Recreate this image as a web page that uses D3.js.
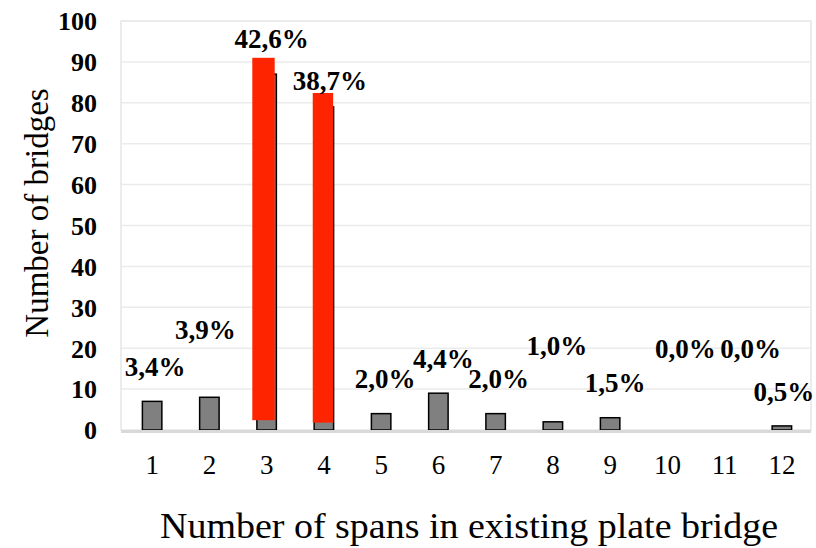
<!DOCTYPE html>
<html>
<head>
<meta charset="utf-8">
<script src="https://cdn.jsdelivr.net/npm/d3@7"></script>
<style>
  html, body { margin: 0; padding: 0; background: #fff; }
  svg { display: block; }
  text { font-family: "Liberation Serif", "Times New Roman", serif; fill: #000; }
</style>
</head>
<body>
<svg id="chart" width="816" height="548"></svg>
<script>
// Number of spans per bridge and how many bridges have that many spans
const spans = ["1", "2", "3", "4", "5", "6", "7", "8", "9", "10", "11", "12"];
const bridges = [7, 8, 87, 79, 4, 9, 4, 2, 3, 0, 0, 1];
const yTicks = [0, 10, 20, 30, 40, 50, 60, 70, 80, 90, 100];

// Highlighted categories (red bands drawn over the bars), extent in bridge counts
const highlightSpans = ["3", "4"];
const highlightTop = [91, 82.4];
const highlightBottom = [2.4, 1.8];

// Layout: label nudges (px) relative to the top centre of each bar
const labelDx = [3, -4, 5, 6, 4, 5, 3, 4, 5, 18, 26, 2];
const labelDy = [-25, -58, -26, -17, -26, -25, -26, -67, -26, -72, -72, -25];
// Layout: horizontal placement of the red bands relative to the band start (px)
const highlightDx = [-4.6, -1.4];
const highlightW = [22.4, 20.4];

const total = d3.sum(bridges);
const pct = v => (v / total * 100).toFixed(1).replace(".", ",") + "%";

const svg = d3.select("#chart");
const plot = { left: 121, right: 811, top: 21, bottom: 430 };

const x = d3.scaleBand().domain(spans).range([123.5, 810.5]).paddingInner(0.66).paddingOuter(0.33);
const y = d3.scaleLinear().domain([0, 100]).range([plot.bottom, plot.top]);

// Plot frame
svg.append("rect")
  .attr("x", plot.left).attr("y", plot.top)
  .attr("width", plot.right - plot.left).attr("height", plot.bottom - plot.top)
  .attr("fill", "none").attr("stroke", "#e6e6e6").attr("stroke-width", 1.5);

// Horizontal gridlines
svg.append("g").selectAll("line").data(yTicks.filter(t => t > 0)).join("line")
  .attr("x1", plot.left).attr("x2", plot.right)
  .attr("y1", d => y(d)).attr("y2", d => y(d))
  .attr("stroke", "#ebebeb").attr("stroke-width", 1.5);

// Y axis tick labels
const yAxis = d3.axisLeft(y).tickValues(yTicks).tickSize(0).tickPadding(0).tickFormat(d3.format("d"));
svg.append("g").attr("transform", "translate(97,0)").call(yAxis)
  .call(g => g.select(".domain").remove())
  .call(g => g.selectAll("text")
    .attr("font-family", "Liberation Serif").attr("font-size", 26)
    .attr("font-weight", "bold").attr("dy", "0.34em"));

// Bars
svg.append("g").selectAll("rect").data(spans).join("rect")
  .attr("x", d => x(d))
  .attr("y", (d, i) => y(bridges[i]))
  .attr("width", x.bandwidth())
  .attr("height", (d, i) => y(0) - y(bridges[i]))
  .attr("fill", "#808080").attr("stroke", "#000").attr("stroke-width", 1.5);

// Red highlight bands
svg.append("g").selectAll("rect").data(highlightSpans).join("rect")
  .attr("x", (d, i) => x(d) + highlightDx[i])
  .attr("y", (d, i) => y(highlightTop[i]))
  .attr("width", (d, i) => highlightW[i])
  .attr("height", (d, i) => y(highlightBottom[i]) - y(highlightTop[i]))
  .attr("fill", "#ff2400");

// Baseline
svg.append("line")
  .attr("x1", plot.left).attr("x2", plot.right)
  .attr("y1", y(0) + 1.5).attr("y2", y(0) + 1.5)
  .attr("stroke", "#d9d9d9").attr("stroke-width", 3);

// X axis tick labels
const xAxis = d3.axisBottom(x).tickSize(0).tickPadding(0);
svg.append("g").attr("transform", "translate(0,474)").call(xAxis)
  .call(g => g.select(".domain").remove())
  .call(g => g.selectAll("text")
    .attr("font-family", "Liberation Serif").attr("font-size", 27).attr("dy", 0));

// Percentage labels
svg.append("g").selectAll("text").data(spans).join("text")
  .attr("x", (d, i) => x(d) + x.bandwidth() / 2 + labelDx[i])
  .attr("y", (d, i) => y(bridges[i]) + labelDy[i])
  .attr("text-anchor", "middle")
  .attr("font-size", 27).attr("font-weight", "bold")
  .text((d, i) => pct(bridges[i]));

// Axis titles
svg.append("text")
  .attr("x", 469).attr("y", 538)
  .attr("text-anchor", "middle").attr("font-size", 35)
  .attr("textLength", 618).attr("lengthAdjust", "spacingAndGlyphs")
  .text("Number of spans in existing plate bridge");

svg.append("text")
  .attr("transform", "translate(48,213) rotate(-90)")
  .attr("text-anchor", "middle").attr("font-size", 33)
  .text("Number of bridges");
</script>
</body>
</html>
